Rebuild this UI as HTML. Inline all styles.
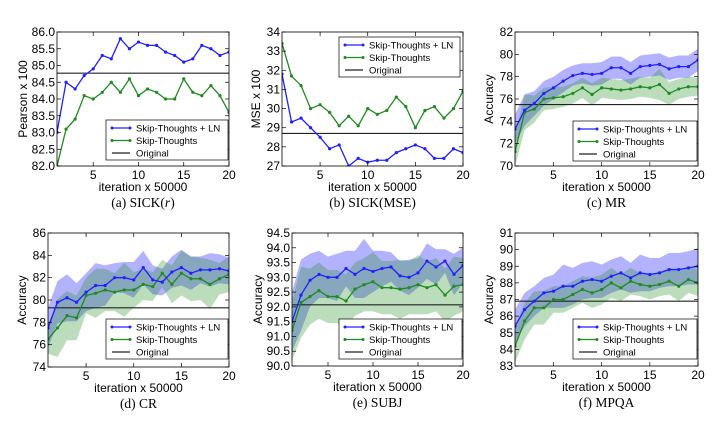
<!DOCTYPE html>
<html><head><meta charset="utf-8"><style>
html,body{margin:0;padding:0;background:#fff;}
svg{display:block;font-family:"Liberation Sans",sans-serif;}
.cap{font-family:"Liberation Serif",serif;font-size:13.5px;}
</style></head><body>
<svg id="fig" width="722" height="422" viewBox="0 0 722 422"></svg>
<script>
const xs = [1,2,3,4,5,6,7,8,9,10,11,12,13,14,15,16,17,18,19,20];
const xTicks = [5,10,15,20];

const aLN = [83.0,84.5,84.3,84.7,84.9,85.3,85.2,85.8,85.5,85.7,85.6,85.6,85.4,85.3,85.1,85.2,85.6,85.5,85.3,85.4];
const aST = [82.0,83.1,83.4,84.1,84.0,84.2,84.5,84.2,84.6,84.1,84.3,84.2,84.0,84.0,84.6,84.2,84.1,84.4,84.1,83.6];
const aOrig = 84.77;
const aTicks = ["82.0","82.5","83.0","83.5","84.0","84.5","85.0","85.5","86.0"];

const bLN = [31.8,29.3,29.5,29.0,28.5,27.9,28.1,27.0,27.4,27.2,27.3,27.3,27.7,27.9,28.1,27.9,27.4,27.4,27.9,27.7];
const bST = [33.4,31.7,31.2,30.0,30.2,29.8,29.1,29.6,29.1,30.0,29.7,29.9,30.6,30.1,29.0,29.9,30.1,29.5,30.0,30.9];
const bOrig = 28.7;
const bTicks = ["27","28","29","30","31","32","33","34"];

const cLN = [73.3,75.0,75.6,76.5,77.0,77.6,78.1,78.3,78.2,78.3,78.8,78.8,78.3,78.9,79.0,79.1,78.7,78.9,78.9,79.5];
const cST = [71.3,74.8,75.1,76.0,76.1,76.2,76.5,77.0,76.4,77.0,76.9,76.8,76.9,77.1,77.0,77.3,76.5,76.9,77.1,77.1];
const cLNsd = [1.3,1.4,1.1,1.1,1.0,1.0,0.9,0.9,1.0,1.0,1.0,1.0,1.0,1.0,1.0,1.0,1.0,1.0,1.0,1.0];
const cSTsd = [1.3,1.6,1.2,1.0,1.0,0.9,0.9,0.9,1.0,0.9,0.9,0.9,0.9,0.9,0.9,1.4,1.0,0.9,0.9,0.8];
const cOrig = 75.5;
const cTicks = ["70","72","74","76","78","80","82"];

const dLN = [77.5,79.8,80.2,79.8,80.7,81.3,81.3,82.0,82.0,81.8,82.9,81.8,81.6,82.5,82.9,82.4,82.7,82.7,82.8,82.6];
const dST = [76.5,77.5,78.6,78.4,80.4,80.6,80.9,80.7,80.9,80.9,81.4,81.2,82.4,81.4,82.4,81.9,81.9,81.4,81.9,82.3];
const dLNsd = [1.8,1.9,2.1,1.7,1.7,2.0,1.8,1.3,1.4,1.6,1.5,1.3,1.2,1.4,1.6,1.5,1.2,1.5,1.3,1.2];
const dSTsd = [1.3,2.6,2.2,2.0,1.6,2.2,1.9,1.7,2.4,1.6,1.4,1.3,1.2,1.7,2.0,2.0,1.9,2.2,1.4,1.6];
const dOrig = 79.3;
const dTicks = ["74","76","78","80","82","84","86"];

const eLN = [91.5,92.4,92.9,93.1,93.0,93.0,93.3,93.1,93.3,93.2,93.3,93.35,93.05,93.0,93.15,93.55,93.35,93.55,93.1,93.4];
const eST = [91.2,92.15,92.35,92.55,92.35,92.35,92.2,92.6,92.75,92.85,92.65,92.65,92.6,92.65,92.75,92.65,92.75,92.4,92.7,92.75];
const eLNsd = [1.0,1.2,0.9,0.8,0.7,0.8,0.6,0.8,1.0,0.7,0.6,0.5,0.5,0.6,0.5,0.6,0.6,0.4,0.7,0.6];
const eSTsd = [1.0,1.2,0.95,0.95,0.9,0.9,0.9,0.9,0.9,1.0,0.9,0.9,1.0,0.9,1.0,0.9,0.9,0.9,1.0,0.9];
const eOrig = 92.07;
const eTicks = ["90.0","90.5","91.0","91.5","92.0","92.5","93.0","93.5","94.0","94.5"];

const fLN = [85.4,86.4,86.9,87.4,87.5,87.8,87.8,88.1,88.2,88.1,88.4,88.6,88.3,88.6,88.5,88.6,88.8,88.8,88.9,89.0];
const fST = [84.2,85.7,86.5,86.5,87.0,87.0,87.3,87.6,87.4,87.6,88.0,87.7,88.1,87.9,87.8,87.9,88.1,87.8,88.2,88.0];
const fLNsd = [1.0,1.0,0.9,0.9,1.0,1.3,1.1,1.1,1.1,1.0,1.0,1.0,0.9,1.1,1.0,0.9,1.0,1.0,1.0,1.1];
const fSTsd = [1.0,1.1,1.0,1.0,0.8,0.8,0.8,0.8,0.9,0.9,0.9,0.8,0.8,0.7,0.8,0.7,0.8,0.9,0.8,0.8];
const fOrig = 86.9;
const fTicks = ["83","84","85","86","87","88","89","90","91"];

const NS = "http://www.w3.org/2000/svg";
const svg = document.getElementById("fig");
function mk(tag, attrs, parent){
  const e = document.createElementNS(NS, tag);
  for (const k in attrs) e.setAttribute(k, attrs[k]);
  (parent||svg).appendChild(e);
  return e;
}
const BLUE = "#2020ff", GREEN = "#1f8a1f";

function panel(p){
  const g = mk("g", {});
  
  
  const ymin = parseFloat(p.ticks[0]), ymax = parseFloat(p.ticks[p.ticks.length-1]);
  const X = v => p.l + (v-1)/(19)*(p.r-p.l);
  const Y = v => p.b - (v-ymin)/(ymax-ymin)*(p.b-p.t);
  const cid = "clip-"+p.id;
  const cp = mk("clipPath", {id:cid}, g);
  mk("rect", {x:p.l, y:p.t, width:p.r-p.l, height:p.b-p.t}, cp);
  const inner = mk("g", {"clip-path":"url(#"+cid+")"}, g);
  function band(vals, sd, color, name){
    if(!sd) return;
    let d = "";
    vals.forEach((v,i)=>{ d += (i?"L":"M")+X(xs[i])+","+Y(v+sd[i]); });
    for(let i=vals.length-1;i>=0;i--) d += "L"+X(xs[i])+","+Y(vals[i]-sd[i]);
    const e = mk("path", {d:d+"Z", fill:color, "fill-opacity":0.3, stroke:"none"}, inner);
    
    
  }
  band(p.ln, p.lnsd, "#0000ff", "ln-band");
  band(p.st, p.stsd, "#209020", "st-band");
  const ol = mk("line", {x1:p.l, x2:p.r, y1:Y(p.orig), y2:Y(p.orig), stroke:"#222", "stroke-width":1.2}, inner);
  
  
  function series(vals, color, name){
    const pts = vals.map((v,i)=>X(xs[i])+","+Y(v)).join(" ");
    const e = mk("polyline", {points:pts, fill:"none", stroke:color, "stroke-width":1.3}, inner);
    
    
    vals.forEach((v,i)=>{
      const c = mk("circle", {cx:X(xs[i]), cy:Y(v), r:1.6, fill:color}, inner);
      
      
    });
  }
  series(p.st, GREEN, "skip-thoughts-line");
  series(p.ln, BLUE, "skip-thoughts-ln-line");
  const fr = mk("rect", {x:p.l, y:p.t, width:p.r-p.l, height:p.b-p.t, fill:"none", stroke:"#000", "stroke-width":0.8}, g);
  
  
  p.ticks.forEach(t=>{
    const y = Y(parseFloat(t));
    mk("line", {x1:p.l, x2:p.l+4, y1:y, y2:y, stroke:"#000", "stroke-width":0.7}, g);
    mk("line", {x1:p.r, x2:p.r-4, y1:y, y2:y, stroke:"#000", "stroke-width":0.7}, g);
    const tx = mk("text", {x:p.l-2, y:y+4, "text-anchor":"end", "font-size":12}, g);
    tx.textContent = t;
    
    
  });
  xTicks.forEach(t=>{
    const x = X(t);
    mk("line", {x1:x, x2:x, y1:p.b, y2:p.b-4, stroke:"#000", "stroke-width":0.7}, g);
    mk("line", {x1:x, x2:x, y1:p.t, y2:p.t+4, stroke:"#000", "stroke-width":0.7}, g);
    const tx = mk("text", {x:x, y:p.b+13, "text-anchor":"middle", "font-size":12}, g);
    tx.textContent = t;
    
    
  });
  const xl = mk("text", {x:(p.l+p.r)/2, y:p.b+25, "text-anchor":"middle", "font-size":12}, g);
  xl.textContent = "iteration x 50000";
  
  
  const yx = p.ylx, yy = (p.t+p.b)/2;
  const yl = mk("text", {x:yx, y:yy, "text-anchor":"middle", "font-size":12, transform:"rotate(-90 "+yx+" "+yy+")"}, g);
  yl.textContent = p.ylabel;
  
  
  const cap = mk("text", {x:(p.l+p.r)/2, y:p.b+41, "text-anchor":"middle", "class":"cap"}, g);
  cap.innerHTML = p.cap;
  
  
  const lg = mk("g", {}, g);
  
  
  mk("rect", {x:p.lx, y:p.ly, width:p.lw, height:40, fill:"#fff", stroke:"#000", "stroke-width":0.7}, lg);
  const entries = [["Skip-Thoughts + LN", BLUE, true],["Skip-Thoughts", GREEN, true],["Original", "#222", false]];
  entries.forEach((en,i)=>{
    const yy2 = p.ly + 8 + i*12.5;
    const le = mk("g", {}, lg);
    
    
    mk("line", {x1:p.lx+6, x2:p.lx+24, y1:yy2, y2:yy2, stroke:en[1], "stroke-width":1.3}, le);
    if(en[2]){ mk("circle",{cx:p.lx+6,cy:yy2,r:1.5,fill:en[1]},le); mk("circle",{cx:p.lx+24,cy:yy2,r:1.5,fill:en[1]},le); }
    const t = mk("text", {x:p.lx+30, y:yy2+3.5, "font-size":9.5}, le);
    t.textContent = en[0];
  });
}

panel({id:"a", l:57, r:229, t:32, b:166, ticks:aTicks, ln:aLN, st:aST, orig:aOrig, ylabel:"Pearson x 100", ylx:27, cap:'(a) SICK(<tspan font-style="italic">r</tspan>)', lx:106, ly:120, lw:122});
panel({id:"b", l:282, r:463, t:32, b:166, ticks:bTicks, ln:bLN, st:bST, orig:bOrig, ylabel:"MSE x 100", ylx:260, cap:"(b) SICK(MSE)", lx:339, ly:37, lw:121});
panel({id:"c", l:515, r:698, t:32, b:166, ticks:cTicks, ln:cLN, st:cST, lnsd:cLNsd, stsd:cSTsd, orig:cOrig, ylabel:"Accuracy", ylx:493, cap:"(c) MR", lx:573, ly:121, lw:124});
panel({id:"d", l:48, r:229, t:233, b:367, ticks:dTicks, ln:dLN, st:dST, lnsd:dLNsd, stsd:dSTsd, orig:dOrig, ylabel:"Accuracy", ylx:26, cap:"(d) CR", lx:106, ly:319, lw:122});
panel({id:"e", l:292, r:463, t:233, b:366, ticks:eTicks, ln:eLN, st:eST, lnsd:eLNsd, stsd:eSTsd, orig:eOrig, ylabel:"Accuracy", ylx:262, cap:"(e) SUBJ", lx:339, ly:319, lw:123});
panel({id:"f", l:515, r:698, t:233, b:366, ticks:fTicks, ln:fLN, st:fST, lnsd:fLNsd, stsd:fSTsd, orig:fOrig, ylabel:"Accuracy", ylx:493, cap:"(f) MPQA", lx:573, ly:319, lw:124});
</script>
</body></html>
